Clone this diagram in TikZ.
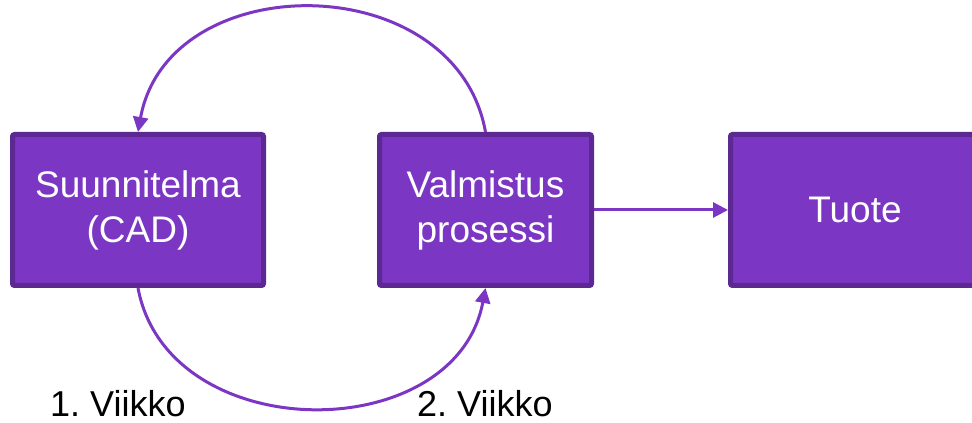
\documentclass[tikz,border=0pt]{standalone}
\usepackage{fontspec}
\setmainfont{Liberation Sans}
\usepackage{tikz}
\usetikzlibrary{arrows.meta}
\definecolor{boxfill}{HTML}{7B36C3}
\definecolor{boxline}{HTML}{5C2891}
\frenchspacing

\begin{document}
\begin{tikzpicture}[x=1pt,y=1pt,
        stage/.style={draw=boxline,fill=boxfill,line width=5pt,rounded corners=2pt,
            minimum height=151pt,text=white,align=center,
            font=\fontsize{37}{45}\selectfont},
        flow/.style={-{Triangle[length=15pt,width=15pt]},boxfill,line width=3pt},
        week/.style={anchor=base west,inner sep=0pt,font=\fontsize{36}{40}\selectfont}]
        \useasboundingbox (0,0) rectangle (972,423);

        \node[stage,minimum width=251pt] (cad) at (138,213) {Suunnitelma\\(CAD)};
        \node[stage,minimum width=212pt] (proc) at (485.5,213) {Valmistus\\prosessi};
        \node[stage,minimum width=257pt] (prod) at (859,213) {\hspace*{-8pt}Tuote};

        \draw[flow] (proc.east) -- (prod.west);
        \draw[flow] (proc.north) .. controls +(-30,166) and +(30,166) .. (cad.north);
        \draw[flow] (cad.south) .. controls +(30,-160) and +(-30,-160) .. (proc.south);

        \node[week] (wk1) at (50,6) {1. Viikko};
        \node[week] (wk2) at (417,6) {2. Viikko};
\end{tikzpicture}
\end{document}
